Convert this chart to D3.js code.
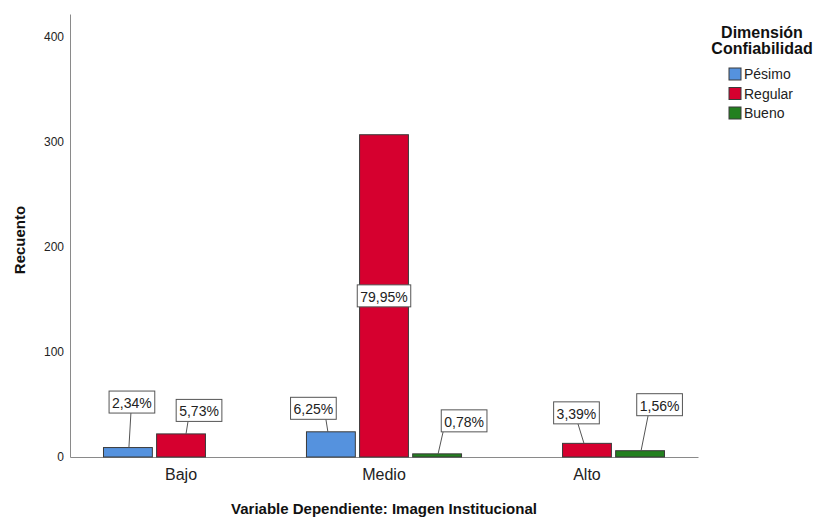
<!DOCTYPE html>
<html>
<head>
<meta charset="utf-8">
<script src="https://cdn.jsdelivr.net/npm/d3@7/dist/d3.min.js"></script>
<style>
  body { margin: 0; background: #fff; }
  svg { display: block; font-family: Arial, "Liberation Sans", sans-serif; }
</style>
</head>
<body>
<svg id="chart" width="819" height="518"></svg>
<script>
// Recuento por nivel de Imagen Institucional y Dimensión Confiabilidad
const categories = ["Bajo", "Medio", "Alto"];
const seriesNames = ["Pésimo", "Regular", "Bueno"];
const pesimo  = [9, 24, 0];
const regular = [22, 307, 13];
const bueno   = [0, 3, 6];
const yTicks  = [0, 100, 200, 300, 400];

const seriesColors = ["#5592de", "#d6002f", "#23801f"];

// Callout placement per bar: [box dx, box dy, leader anchor on box, leader anchor on bar]
// "inside" puts the label at the middle of the bar without a leader.
const calloutLayout = {
  "Bajo|Pésimo":   [4, -45.5, -1, 1],
  "Bajo|Regular":  [18, -23.5, -11, 5],
  "Medio|Pésimo":  [-17.5, -23.5, 12.5, -3],
  "Medio|Regular": "inside",
  "Medio|Bueno":   [27, -33, -21, 1],
  "Alto|Regular":  [-10.5, -30.5, 1.5, -3],
  "Alto|Bueno":    [19.5, -46, -11.5, 1]
};

const valuesBySeries = [pesimo, regular, bueno];
const total = d3.sum(valuesBySeries.flat());

const rows = [];
categories.forEach((c, i) => {
  seriesNames.forEach((s, j) => {
    rows.push({ category: c, series: s, si: j, value: valuesBySeries[j][i] });
  });
});

const svg = d3.select("#chart");

const x0 = d3.scaleBand()
  .domain(categories)
  .range([70, 698])
  .paddingInner(0.236)
  .paddingOuter(0.165);

const x1 = d3.scaleBand()
  .domain(seriesNames)
  .range([0, x0.bandwidth()])
  .paddingInner(0.08)
  .paddingOuter(0);

const y = d3.scaleLinear().domain([0, 422]).range([457, 14]);

// Axes
const yAxis = svg.append("g")
  .attr("transform", "translate(70,0)")
  .call(d3.axisLeft(y).tickValues(yTicks).tickFormat(d3.format("d"))
    .tickSize(0).tickSizeOuter(0).tickPadding(6));
yAxis.select(".domain").attr("stroke", "#8a8a8a");
yAxis.selectAll("text").attr("font-size", 12).attr("fill", "#222")
  .attr("font-family", "Arial, 'Liberation Sans', sans-serif");

const xAxis = svg.append("g")
  .attr("transform", "translate(0,457)")
  .call(d3.axisBottom(x0).tickSize(0).tickSizeOuter(0).tickPadding(12));
xAxis.select(".domain").attr("stroke", "#8a8a8a");
xAxis.selectAll("text").attr("font-size", 16).attr("fill", "#222")
  .attr("font-family", "Arial, 'Liberation Sans', sans-serif");

// Bars
const barRows = rows.filter(d => d.value > 0);
svg.append("g").selectAll("rect")
  .data(barRows)
  .join("rect")
  .attr("x", d => x0(d.category) + x1(d.series))
  .attr("y", d => y(d.value))
  .attr("width", x1.bandwidth())
  .attr("height", d => y(0) - y(d.value))
  .attr("fill", d => seriesColors[d.si])
  .attr("stroke", "#3a3a3a")
  .attr("stroke-width", 1);

// Percentage callouts
const fmtPct = v => (Math.round(v / total * 10000) / 100).toFixed(2).replace(".", ",") + "%";
const labels = svg.append("g");
barRows.forEach(d => {
  const layout = calloutLayout[d.category + "|" + d.series];
  const bx = x0(d.category) + x1(d.series) + x1.bandwidth() / 2;
  const by = y(d.value);
  const g = labels.append("g");
  const t = g.append("text")
    .attr("font-size", 14)
    .attr("fill", "#222")
    .attr("text-anchor", "middle")
    .attr("dominant-baseline", "central")
    .text(fmtPct(d.value));
  const w = t.node().getComputedTextLength() + 6;
  const h = 22;
  let cx, cy;
  if (layout === "inside") {
    cx = bx;
    cy = (by + y(0)) / 2;
  } else {
    cx = bx + layout[0];
    cy = by + layout[1];
    const ax = Math.max(cx - w / 2, Math.min(cx + w / 2, cx + layout[2]));
    g.insert("line", "text")
      .attr("x1", ax).attr("y1", cy + h / 2)
      .attr("x2", bx + layout[3]).attr("y2", by)
      .attr("stroke", "#555").attr("stroke-width", 1);
  }
  g.insert("rect", "text")
    .attr("x", cx - w / 2).attr("y", cy - h / 2)
    .attr("width", w).attr("height", h)
    .attr("fill", "#fff").attr("stroke", "#555").attr("stroke-width", 1);
  t.attr("x", cx).attr("y", cy + 1);
});

// Axis titles
svg.append("text")
  .attr("transform", "translate(25,240) rotate(-90)")
  .attr("text-anchor", "middle")
  .attr("font-size", 15).attr("font-weight", "bold").attr("fill", "#111")
  .text("Recuento");

svg.append("text")
  .attr("x", 384).attr("y", 514)
  .attr("text-anchor", "middle")
  .attr("font-size", 15).attr("font-weight", "bold").attr("fill", "#111")
  .text("Variable Dependiente: Imagen Institucional");

// Legend
const legend = svg.append("g");
legend.append("text")
  .attr("x", 762).attr("y", 38).attr("text-anchor", "middle")
  .attr("font-size", 16).attr("font-weight", "bold").attr("fill", "#111")
  .text("Dimensión");
legend.append("text")
  .attr("x", 762).attr("y", 54).attr("text-anchor", "middle")
  .attr("font-size", 16).attr("font-weight", "bold").attr("fill", "#111")
  .text("Confiabilidad");

const items = legend.selectAll("g.item")
  .data(seriesNames)
  .join("g")
  .attr("class", "item")
  .attr("transform", (d, i) => `translate(729,${68 + i * 19.5})`);
items.append("rect")
  .attr("width", 12).attr("height", 12)
  .attr("fill", (d, i) => seriesColors[i])
  .attr("stroke", "#3a3a3a").attr("stroke-width", 1);
items.append("text")
  .attr("x", 15).attr("y", 6)
  .attr("dominant-baseline", "central")
  .attr("font-size", 14).attr("fill", "#222")
  .text(d => d);
</script>
</body>
</html>
